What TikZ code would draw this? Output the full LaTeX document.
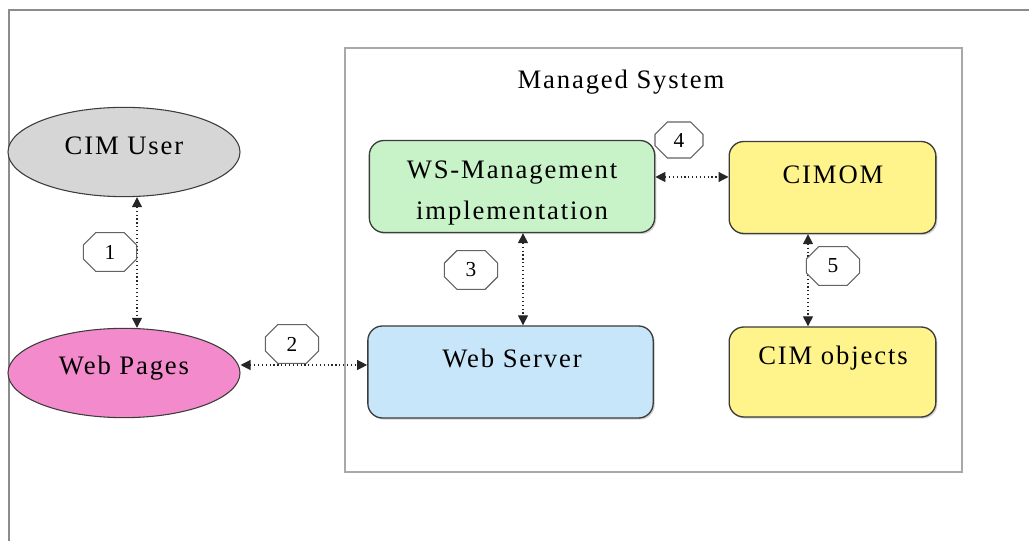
\documentclass[tikz,border=0pt]{standalone}
\usepackage{fontspec}
\setmainfont{Liberation Serif}[LetterSpace=7]
\usetikzlibrary{arrows.meta,shapes.geometric,shapes.misc,shadows}

\definecolor{framegray}{HTML}{8C8C8C}
\definecolor{sysgray}{HTML}{A8A8A8}
\definecolor{edgedark}{HTML}{3C3C3C}
\definecolor{usergray}{HTML}{D6D6D6}
\definecolor{pagepink}{HTML}{F28ACB}
\definecolor{wsgreen}{HTML}{C8F2C8}
\definecolor{srvblue}{HTML}{C8E6FA}
\definecolor{cimyellow}{HTML}{FFF38C}

\tikzset{
  px/.style={x=0.75pt,y=-0.75pt},
  boxtext/.style={font=\fontsize{20}{24}\selectfont, inner sep=0pt, align=center},
  actor/.style={ellipse, draw=edgedark, line width=0.8pt, minimum width=174pt, minimum height=67pt, inner sep=0pt},
  compbox/.style={rectangle, rounded corners=11pt, draw=edgedark, line width=1pt,
      drop shadow={shadow xshift=1.2pt, shadow yshift=-1.2pt, fill=gray!70},
      minimum width=214pt, minimum height=69pt, inner sep=0pt},
  stepnum/.style={chamfered rectangle, chamfered rectangle xsep=6pt, chamfered rectangle ysep=6pt,
      chamfered rectangle corners={north east,north west,south east,south west},
      draw=edgedark!80, line width=0.8pt, fill=white, minimum width=40pt, minimum height=29pt,
      inner sep=0pt, font=\fontsize{16}{18}\selectfont},
  conn/.style={dotted, line width=0.9pt, black!85,
      {Triangle[length=7.5pt,width=7.5pt]}-{Triangle[length=7.5pt,width=7.5pt]}}
}

\begin{document}
\begin{tikzpicture}[px]
  \useasboundingbox (0,0) rectangle (1029,541);

  % outer frame (left and top edges)
  \draw[framegray, line width=1.6pt] (9,541) -- (9,10) -- (1029,10);

  % managed system container
  \node[rectangle, draw=sysgray, line width=1.1pt, minimum width=462.75pt, minimum height=318pt, inner sep=0pt]
    (system) at (653.5,260) {};
  \node[boxtext] (systemtitle) at (621,82) {Managed System};

  % actors
  \node[actor, fill=usergray] (user) at (124,152) {};
  \node[boxtext] (usertext) at (124,146) {CIM User};
  \node[actor, fill=pagepink] (pages) at (124,373) {};
  \node[boxtext] (pagestext) at (124,368) {Web Pages};

  % components
  \node[compbox, fill=wsgreen] (wsman) at (512,186.5) {};
  \node[boxtext] (wsmantext) at (512,193) {WS-Management\\[7pt]implementation};

  \node[compbox, fill=srvblue] (server) at (510.5,372) {};
  \node[boxtext] (servertext) at (512,358) {Web Server};

  \node[compbox, fill=cimyellow, minimum width=155pt] (cimom) at (832.5,187.5) {};
  \node[boxtext] (cimomtext) at (833,175) {CIMOM};

  \node[compbox, fill=cimyellow, minimum width=155pt, minimum height=67.5pt] (objects) at (832.5,372) {};
  \node[boxtext] (objectstext) at (833,358) {CIM objects};

  % connectors
  \draw[conn] (user.south -| 137,0) -- (pages.north -| 137,0);
  \draw[conn] (pages.east |- 0,365) -- (server.west |- 0,365);
  \draw[conn] (wsman.south -| 523,0) -- (server.north -| 523,0);
  \draw[conn] (wsman.east |- 0,177) -- (cimom.west |- 0,177);
  \draw[conn] (cimom.south -| 808,0) -- (objects.north -| 808,0);

  % step numbers
  \node[stepnum] (s1) at (110,252) {1};
  \node[stepnum] (s2) at (292,344) {2};
  \node[stepnum] (s3) at (471,270) {3};
  \node[stepnum, minimum width=36pt, minimum height=27pt] (s4) at (679,140) {4};
  \node[stepnum] (s5) at (833,266) {5};
\end{tikzpicture}
\end{document}
